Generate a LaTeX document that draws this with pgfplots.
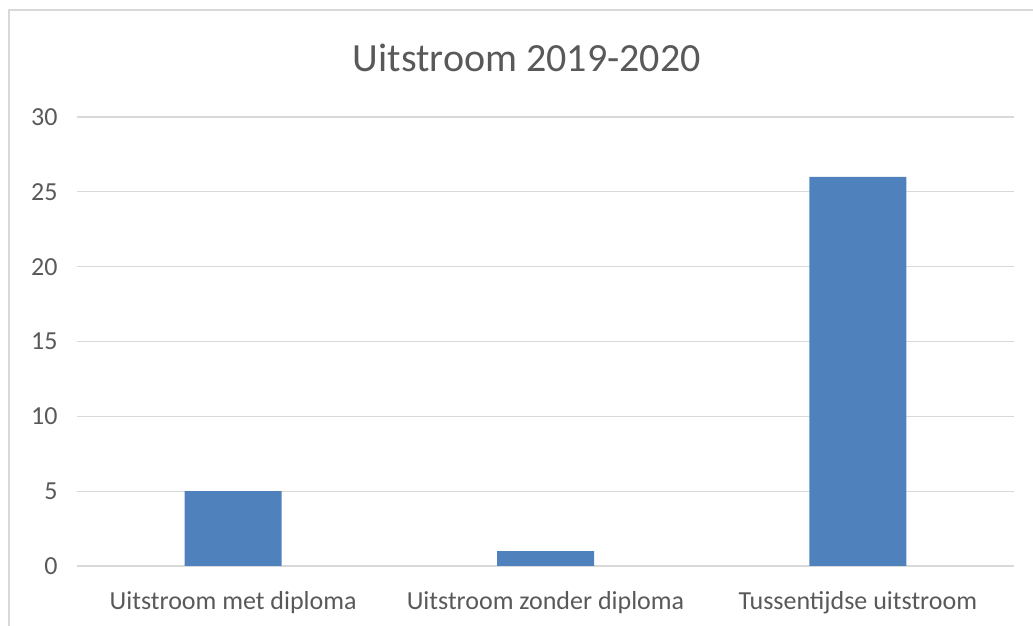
\documentclass[border=0pt]{standalone}
\usepackage{pgfplots}
\pgfplotsset{compat=1.18}
\usepackage{fontspec}
\setmainfont{Carlito}
\definecolor{barblue}{HTML}{4F81BD}
\definecolor{txt}{HTML}{595959}
\definecolor{gridc}{HTML}{D9D9D9}
\begin{document}
\begin{tikzpicture}[x=1pt,y=1pt]
\path[use as bounding box] (0,0) rectangle (1033,626);
\draw[gridc,line width=2pt] (9,0) -- (9,616) -- (1033,616);
\begin{axis}[
  at={(77pt,60pt)}, anchor=south west,
  scale only axis, width=937pt, height=449pt,
  xmin=-0.5, xmax=2.5, ymin=0, ymax=30,
  xtick=data,
  xticklabels={Uitstroom met diploma,Uitstroom zonder diploma,Tussentijdse uitstroom},
  ytick={0,5,...,30},
  axis line style={draw=none},
  ymajorgrids, grid style={gridc,line width=1.3pt},
  major tick length=0pt,
  tick label style={font=\fontsize{26}{30}\selectfont, text=txt},
  yticklabel style={xshift=-16pt},
  xticklabel style={yshift=-22pt},
  /pgf/number format/assume math mode=true,
  title={Uitstroom 2019-2020},
  title style={font=\fontsize{40}{46}\selectfont, text=txt, at={(0.48,1)}, yshift=36pt},
  clip=false,
]
\addplot[ybar, bar width=97pt, fill=barblue, draw=none] coordinates {(0,5) (1,1) (2,26)};
\end{axis}
\end{tikzpicture}
\end{document}
